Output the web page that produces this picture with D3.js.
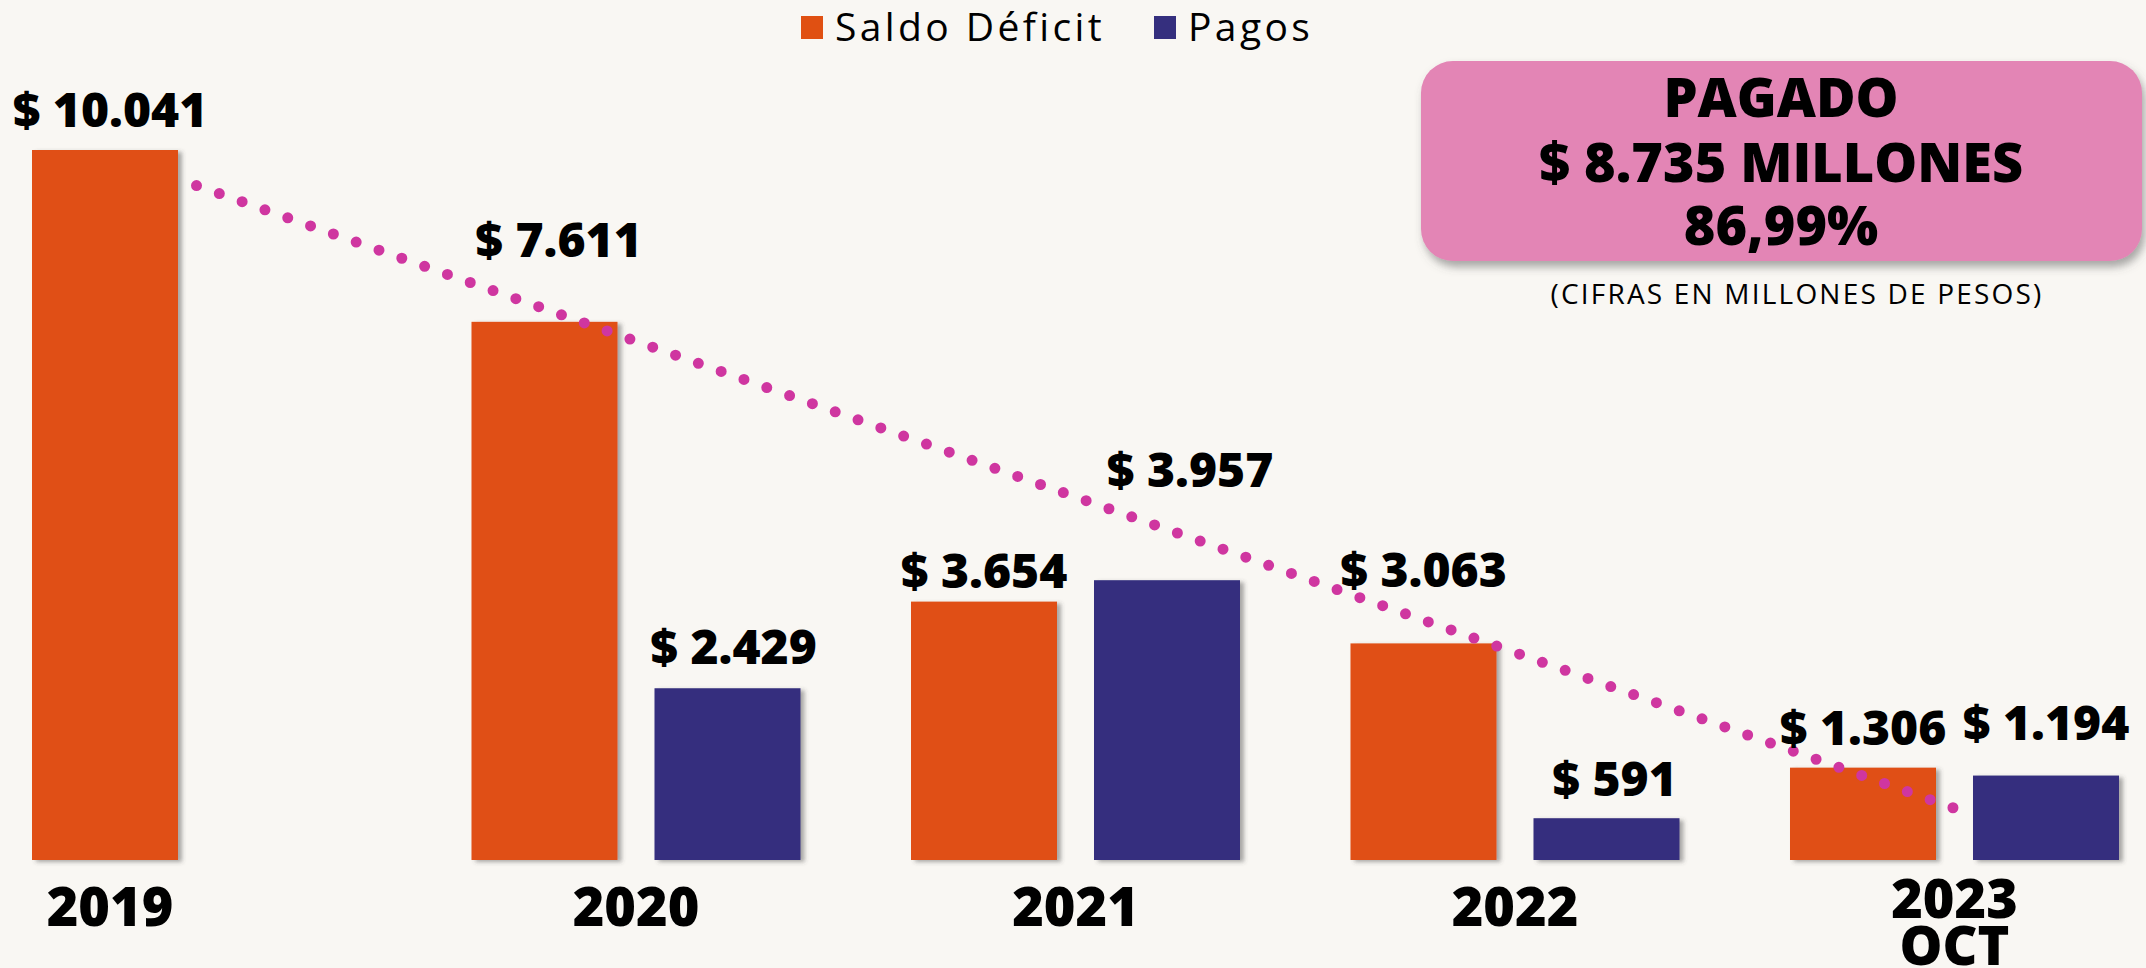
<!DOCTYPE html>
<html>
<head>
<meta charset="utf-8">
<script src="https://cdn.jsdelivr.net/npm/d3@7"></script>
<style>
  html, body { margin: 0; padding: 0; background: #f9f7f3; }
  svg { display: block; font-family: "Open Sans", sans-serif; }
</style>
</head>
<body>
<div id="chart"></div>
<script>
// Data
const years = ["2019", "2020", "2021", "2022", "2023"];
const yearLabels = [["2019"], ["2020"], ["2021"], ["2022"], ["2023", "OCT"]];
const seriesNames = ["Saldo Déficit", "Pagos"];
const saldo = [10041, 7611, 3654, 3063, 1306];
const pagos = [null, 2429, 3957, 591, 1194];
const boxLines = ["PAGADO", "$ 8.735 MILLONES", "86,99%"];
const note = "(CIFRAS EN MILLONES DE PESOS)";

// Label nudges (layout only): [dx, lift above bar top]
const saldoNudge = [[5, 23], [14, 65], [0, 14], [0, 56], [0, 23]];
const pagosNudge = [null, [6, 24], [23, 93], [8, 22], [0, 36]];

const colors = { "Saldo Déficit": "#e05012", "Pagos": "#352f7e" };

const W = 2146, H = 968;
const baseY = 860, topY = 150;

const svg = d3.select("#chart")
    .append("svg")
    .attr("width", W)
    .attr("height", H);

const defs = svg.append("defs");
defs.append("filter")
    .attr("id", "barShadow")
    .attr("x", "-10%").attr("y", "-10%")
    .attr("width", "130%").attr("height", "130%")
    .append("feDropShadow")
    .attr("dx", 4).attr("dy", 2)
    .attr("stdDeviation", 2)
    .attr("flood-color", "#444")
    .attr("flood-opacity", 0.45);

defs.append("filter")
    .attr("id", "boxShadow")
    .attr("x", "-10%").attr("y", "-10%")
    .attr("width", "130%").attr("height", "140%")
    .append("feDropShadow")
    .attr("dx", 3).attr("dy", 6)
    .attr("stdDeviation", 4)
    .attr("flood-color", "#555")
    .attr("flood-opacity", 0.5);

// background
svg.append("rect")
    .attr("width", W).attr("height", H)
    .attr("fill", "#f9f7f3");

// Scales
const x0 = d3.scaleBand()
    .domain(years)
    .range([32, 2119])
    .paddingInner(0.2514)
    .paddingOuter(0);

const x1 = d3.scaleBand()
    .domain(seriesNames)
    .range([0, x0.bandwidth()])
    .paddingInner(0.2022)
    .paddingOuter(0);

const y = d3.scaleLinear()
    .domain([0, d3.max(saldo)])
    .range([baseY, topY]);

const fmt = d3.formatLocale({
    decimal: ",", thousands: ".", grouping: [3], currency: ["$ ", ""]
}).format("$,");

// Bars
const rows = [];
years.forEach((yr, i) => {
    rows.push({ year: yr, key: "Saldo Déficit", value: saldo[i], nudge: saldoNudge[i] });
    if (pagos[i] != null) {
        rows.push({ year: yr, key: "Pagos", value: pagos[i], nudge: pagosNudge[i] });
    }
});

svg.append("g")
    .selectAll("rect")
    .data(rows)
    .enter()
    .append("rect")
    .attr("x", d => x0(d.year) + x1(d.key))
    .attr("y", d => y(d.value))
    .attr("width", x1.bandwidth())
    .attr("height", d => baseY - y(d.value))
    .attr("fill", d => colors[d.key])
    .attr("filter", "url(#barShadow)");

// Trend line (least squares on Saldo Déficit)
const idx = saldo.map((d, i) => i);
const mx = d3.mean(idx), my = d3.mean(saldo);
const slope = d3.sum(idx, i => (i - mx) * (saldo[i] - my)) / d3.sum(idx, i => (i - mx) ** 2);
const icpt = my - slope * mx;
const trend = [0, years.length - 1].map(i => ({
    x: x0(years[i]) + x0.bandwidth() / 2,
    y: y(icpt + slope * i)
}));

svg.append("path")
    .attr("d", d3.line().x(d => d.x).y(d => d.y)(trend))
    .attr("fill", "none")
    .attr("stroke", "#cf36a0")
    .attr("stroke-width", 11)
    .attr("stroke-linecap", "round")
    .attr("stroke-dasharray", "0 24.2");

// Value labels
svg.append("g")
    .selectAll("text")
    .data(rows)
    .enter()
    .append("text")
    .attr("x", d => x0(d.year) + x1(d.key) + x1.bandwidth() / 2 + d.nudge[0])
    .attr("y", d => y(d.value) - d.nudge[1])
    .attr("text-anchor", "middle")
    .style("font-size", "48px")
    .style("font-weight", 800)
    .attr("fill", "#000")
    .text(d => fmt(d.value));

// Year labels
const yearG = svg.append("g")
    .selectAll("text")
    .data(years)
    .enter()
    .append("text")
    .attr("x", (d, i) => pagos[i] == null
        ? x0(d) + x1(seriesNames[0]) + x1.bandwidth() / 2 + 5
        : x0(d) + x0.bandwidth() / 2)
    .attr("y", (d, i) => yearLabels[i].length > 1 ? 918 : 926)
    .attr("text-anchor", "middle")
    .style("font-size", "54px")
    .style("font-weight", 800)
    .attr("fill", "#000");

yearG.each(function (d, i) {
    const t = d3.select(this);
    yearLabels[i].forEach((line, j) => {
        t.append("tspan")
            .attr("x", t.attr("x"))
            .attr("dy", j === 0 ? 0 : 47)
            .text(line);
    });
});

// Legend
const legendX = [801, 1154];
const legend = svg.append("g");
seriesNames.forEach((name, i) => {
    legend.append("rect")
        .attr("x", legendX[i])
        .attr("y", 16)
        .attr("width", 22)
        .attr("height", 23)
        .attr("fill", colors[name]);
    legend.append("text")
        .attr("x", legendX[i] + 34)
        .attr("y", 41)
        .style("font-size", "39px")
        .style("font-weight", 500)
        .style("letter-spacing", "3.4px")
        .attr("fill", "#000")
        .text(name);
});

// Pink summary box
const box = svg.append("g");
box.append("rect")
    .attr("x", 1421)
    .attr("y", 61)
    .attr("width", 721)
    .attr("height", 200)
    .attr("rx", 32)
    .attr("fill", "#e385b5")
    .attr("filter", "url(#boxShadow)");

const boxBase = [117, 182, 245];
boxLines.forEach((line, i) => {
    box.append("text")
        .attr("x", 1781)
        .attr("y", boxBase[i])
        .attr("text-anchor", "middle")
        .style("font-size", "54px")
        .style("font-weight", 800)
        .attr("fill", "#000")
        .text(line);
});

svg.append("text")
    .attr("x", 1797)
    .attr("y", 304)
    .attr("text-anchor", "middle")
    .style("font-size", "28px")
    .style("font-weight", 500)
    .style("letter-spacing", "2.2px")
    .attr("fill", "#000")
    .text(note);
</script>
</body>
</html>
